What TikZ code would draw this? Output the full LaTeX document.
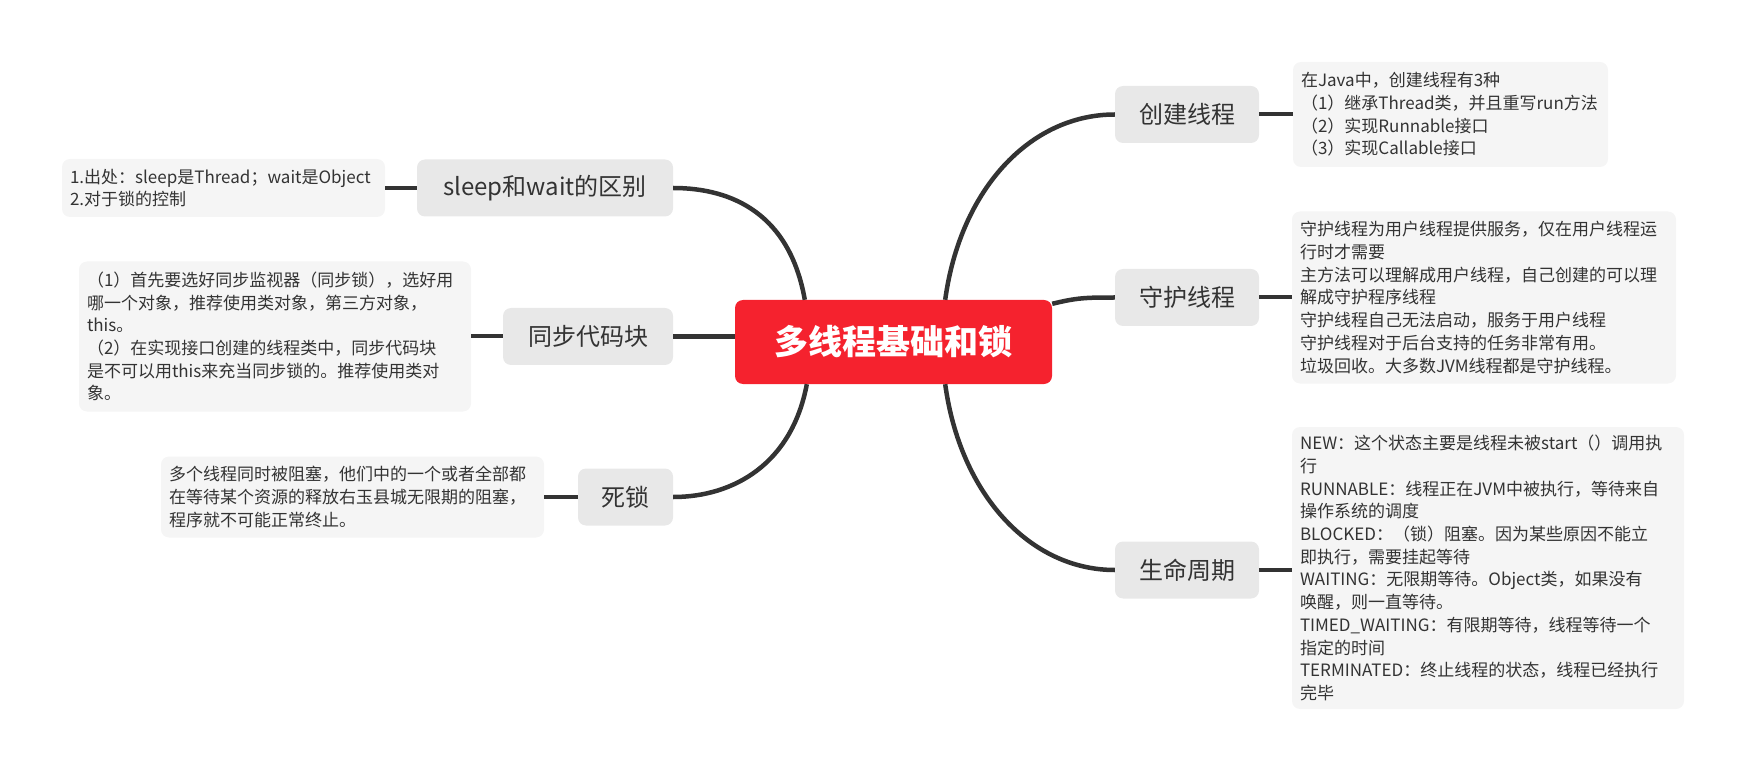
\documentclass[tikz,border=0pt]{standalone}
\usepackage{fontspec}
\setmainfont{Noto Sans CJK SC}
\definecolor{cred}{RGB}{245,34,46}
\definecolor{nodefill}{RGB}{232,232,232}
\definecolor{notefill}{RGB}{245,245,245}
\definecolor{linec}{RGB}{51,51,51}
\definecolor{txt}{RGB}{51,51,51}
\tikzset{
  topic/.style={fill=nodefill, rounded corners=8pt, text=txt, font=\fontsize{24}{28}\selectfont, minimum height=57pt, inner sep=0pt},
  note/.style={fill=notefill, rounded corners=8pt, text=txt, font=\fontsize{17}{22.7}\selectfont, align=left, inner xsep=8pt, inner ysep=0pt},
  branch/.style={draw=linec, line width=4.5pt},
  sub/.style={draw=linec, line width=4pt},
}
\begin{document}
\begin{tikzpicture}[x=1pt,y=-1pt]
\useasboundingbox (0,0) rectangle (1745,775);
% central topic
\node[fill=cred, rounded corners=8pt, minimum width=317pt, minimum height=84pt, inner sep=0pt, text=white, font=\fontsize{34}{40}\selectfont\bfseries] (c) at (893.5,342) {多线程基础和锁};
% right topics
\node[topic, minimum width=144pt] (cj) at (1187,114.5) {创建线程};
\node[topic, minimum width=144pt] (sh) at (1187,297.5) {守护线程};
\node[topic, minimum width=144pt] (sm) at (1187,570) {生命周期};
% left topics
\node[topic, minimum width=256pt] (sw) at (545,188) {sleep和wait的区别};
\node[topic, minimum width=170pt] (tb) at (588,336.5) {同步代码块};
\node[topic, minimum width=95pt] (sl) at (625.5,497) {死锁};
% notes right
\node[note, text width=299pt, minimum height=105pt] (n1) at (1450.5,114.5) {在Java中，创建线程有3种\\（1）继承Thread类，并且重写run方法\\（2）实现Runnable接口\\（3）实现Callable接口};
\node[note, text width=368pt, minimum height=172pt] (n2) at (1484,297.5) {守护线程为用户线程提供服务，仅在用户线程运\\行时才需要\\主方法可以理解成用户线程，自己创建的可以理\\解成守护程序线程\\守护线程自己无法启动，服务于用户线程\\守护线程对于后台支持的任务非常有用。\\垃圾回收。大多数JVM线程都是守护线程。};
\node[note, text width=376pt, minimum height=282pt] (n3) at (1488,568) {NEW：这个状态主要是线程未被start（）调用执\\行\\RUNNABLE：线程正在JVM中被执行，等待来自\\操作系统的调度\\BLOCKED：（锁）阻塞。因为某些原因不能立\\即执行，需要挂起等待\\WAITING：无限期等待。Object类，如果没有\\唤醒，则一直等待。\\TIMED\_WAITING：有限期等待，线程等待一个\\指定的时间\\TERMINATED：终止线程的状态，线程已经执行\\完毕};
% notes left
\node[note, text width=307pt, minimum height=58pt] (m1) at (223.5,188) {1.出处：sleep是Thread；wait是Object\\2.对于锁的控制};
\node[note, text width=376pt, minimum height=150pt] (m2) at (275,336.5) {（1）首先要选好同步监视器（同步锁），选好用\\哪一个对象，推荐使用类对象，第三方对象，\\this。\\（2）在实现接口创建的线程类中，同步代码块\\是不可以用this来充当同步锁的。推荐使用类对\\象。};
\node[note, text width=367pt, minimum height=81pt] (m3) at (352.5,497) {多个线程同时被阻塞，他们中的一个或者全部都\\在等待某个资源的释放右玉县城无限期的阻塞，\\程序就不可能正常终止。};
% main branches
\draw[branch] ([xshift=70pt]c.north west) .. controls +(-15,-85) and +(60,0) .. (sw.east);
\draw[branch] (tb.east -| c.west) -- (tb.east);
\draw[branch] ([xshift=72pt]c.south west) .. controls +(-15,80) and +(60,0) .. (sl.east);
\draw[branch] ([xshift=-107pt]c.north east) .. controls +(15,-110) and +(-85,0) .. (cj.west);
\draw[branch] ([yshift=-4pt]c.north east) .. controls +(25,-6) and +(-30,0) .. (sh.west);
\draw[branch] ([xshift=-107pt]c.south east) .. controls +(15,110) and +(-85,0) .. (sm.west);
% sub lines
\draw[sub] (cj.east) -- (cj.east -| n1.west);
\draw[sub] (sh.east) -- (sh.east -| n2.west);
\draw[sub] (sm.east) -- (sm.east -| n3.west);
\draw[sub] (sw.west) -- (sw.west -| m1.east);
\draw[sub] (tb.west) -- (tb.west -| m2.east);
\draw[sub] (sl.west) -- (sl.west -| m3.east);
\end{tikzpicture}
\end{document}
